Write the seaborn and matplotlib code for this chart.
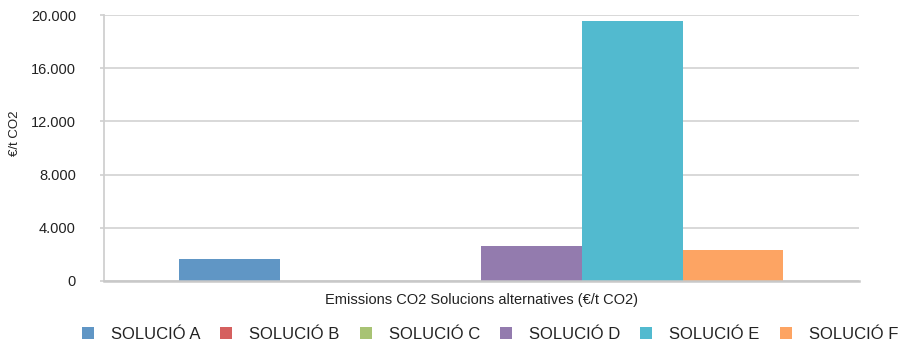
import matplotlib
matplotlib.use("Agg")
import matplotlib.pyplot as plt
from matplotlib.ticker import FuncFormatter
import seaborn as sns
import pandas as pd

# Cost per tonne of CO2 avoided, one bar per alternative solution
solutions = ["SOLUCIÓ A", "SOLUCIÓ B", "SOLUCIÓ C", "SOLUCIÓ D", "SOLUCIÓ E", "SOLUCIÓ F"]
values = [1600, 0, 0, 2620, 19550, 2290]
colors = ["#6096C5", "#D5605F", "#A8C374", "#937BAE", "#52BACF", "#FDA463"]
group_label = "Emissions CO2 Solucions alternatives (€/t CO2)"
y_label = "€/t CO2"
y_ticks = [0, 4000, 8000, 12000, 16000, 20000]

df = pd.DataFrame({"grup": [group_label] * len(solutions),
                   "solucio": solutions,
                   "valor": values})

sns.set_theme(style="white")
plt.rcParams["font.family"] = ["Liberation Sans", "DejaVu Sans"]

fig = plt.figure(figsize=(9.05, 3.46), dpi=100)
ax = fig.add_axes([0.1146, 0.1887, 0.9492 - 0.1146, 0.9558 - 0.1887])

sns.barplot(data=df, x="grup", y="valor", hue="solucio", hue_order=solutions,
            palette=colors, width=0.8, saturation=1, ax=ax, legend=False,
            linewidth=0)

ax.set_ylim(0, 20000)
ax.set_xlim(-0.5, 0.5)
ax.set_yticks(y_ticks)
ax.yaxis.set_major_formatter(FuncFormatter(lambda v, p: f"{int(v):,}".replace(",", ".")))
ax.yaxis.grid(True, color="#d6d6d6", linewidth=1.3)
ax.set_axisbelow(True)

for side in ["top", "right"]:
    ax.spines[side].set_visible(False)
ax.spines["left"].set_color("#d0d0d0")
ax.spines["left"].set_linewidth(1.3)
ax.spines["bottom"].set_color("#c8c8c8")
ax.spines["bottom"].set_linewidth(1.8)

ax.tick_params(axis="y", length=3, width=1.2, color="#d0d0d0", labelsize=10.5,
               labelcolor="#222222", pad=17, left=True)
ax.tick_params(axis="x", length=0, labelbottom=False)

ax.set_xlabel("")
ax.set_ylabel("")
fig.text(15 / 905, 1 - 133 / 346, y_label, rotation=90, ha="center", va="center",
         fontsize=9.5, color="#222222")
fig.text(0.5315, (346 - 300) / 346, group_label, ha="center", va="center",
         fontsize=10.5, color="#222222")

handles = [plt.Rectangle((0, 0), 1, 1, facecolor=c, edgecolor="none") for c in colors]
fig.legend(handles, solutions, loc="center", bbox_to_anchor=(0.5414, 0.033),
           ncol=6, frameon=False, fontsize=12, handlelength=0.72, handleheight=0.72,
           handletextpad=1.02, columnspacing=1.2, labelcolor="#222222",
           borderpad=0, borderaxespad=0)

fig.savefig("out.png", dpi=100)
